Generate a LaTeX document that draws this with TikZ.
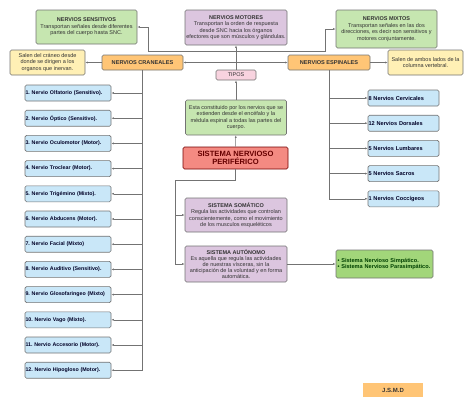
\documentclass[tikz,border=0pt]{standalone}
\usepackage{fontspec}
\setsansfont{Liberation Sans}
\usepackage{tikz}
\usetikzlibrary{arrows.meta,positioning,calc}
\usepackage{xcolor}
\frenchspacing
\definecolor{cgreen}{HTML}{C6E6B0}
\definecolor{cpurple}{HTML}{DCC6DF}
\definecolor{corange}{HTML}{FFC576}
\definecolor{cyellow}{HTML}{FFF0B5}
\definecolor{cblue}{HTML}{C9E7F8}
\definecolor{cpink}{HTML}{F8D3DF}
\definecolor{cred}{HTML}{F48A82}
\definecolor{cdgreen}{HTML}{A2D67A}
\definecolor{ctext}{HTML}{333333}
\tikzset{
  box/.style={draw=black!55, rounded corners=1.5pt, align=center, inner sep=1pt, line width=0.6pt, text=ctext, font=\sffamily\fontsize{5.5}{6.5}\selectfont},
  infobox/.style={box, fill=cgreen, minimum width=101pt},
  motorbox/.style={box, fill=cpurple, minimum width=102pt},
  kindbox/.style={box, fill=corange, minimum width=81pt, minimum height=15pt, font=\sffamily\bfseries\fontsize{5.6}{6.5}\selectfont},
  notebox/.style={box, fill=cyellow, minimum width=75pt, minimum height=25pt},
  nervbox/.style={box, fill=cblue, minimum width=86pt, minimum height=16pt, text width=85pt, inner xsep=0.5pt, align=left, text=black!75!blue!60!black, font=\sffamily\bfseries\fontsize{5.3}{6.3}\selectfont},
  spinbox/.style={nervbox, minimum width=71pt, text width=70pt, font=\sffamily\bfseries\fontsize{5.6}{6.5}\selectfont},
  arrow/.style={-{Latex[length=2.6pt,width=2pt]}, line width=0.5pt, draw=black!55},
  wire/.style={line width=0.5pt, draw=black!55}
}

\begin{document}
\begin{tikzpicture}[x=1pt, y=-1pt, node distance=8.6pt]
\useasboundingbox (0,0) rectangle (474,408);
% tipos y nodo central
\node[box, fill=cred, draw=red!45!black, minimum width=105pt, minimum height=22pt, text=red!40!black, font=\sffamily\bfseries\fontsize{7.6}{8.6}\selectfont] (snp) at (235.5,158) {SISTEMA NERVIOSO\\PERIFÉRICO};
\node[infobox, minimum height=35pt] (def) at (236,117.5) {Esta constituido por los nervios que se\\extienden desde el encéfalo y la\\médula espinal a todas las partes del\\cuerpo.};
\node[box, fill=cpink, minimum width=40pt, minimum height=10pt] (tipos) at (236,75) {TIPOS};
\node[motorbox, minimum height=35pt] (mot) at (236,27.5) {\textbf{NERVIOS MOTORES}\\Transportan la orden de respuesta\\desde SNC hacia los órganos\\efectores que son músculos y glándulas.};
\node[infobox, minimum height=34pt] (sens) at (86.5,27) {\textbf{NERVIOS SENSITIVOS}\\Transportan señales desde diferentes\\partes del cuerpo hasta SNC.};
\node[infobox, minimum height=38pt] (mix) at (386.5,29) {\textbf{NERVIOS MIXTOS}\\Transportan señales en las dos\\direcciones, es decir son sensitivos y\\motores conjuntamente.};
\node[kindbox] (cran) at (142.5,62.5) {NERVIOS CRANEALES};
\node[kindbox, minimum width=82pt] (esp) at (329,62.5) {NERVIOS ESPINALES};
\node[notebox] (salcr) at (47.5,62.5) {Salen del cráneo desde\\donde se dirigen a los\\organos que inervan.};
\node[notebox] (salesp) at (425.5,62.5) {Salen de ambos lados de la\\columna vertebral.};
% sistemas
\node[motorbox, minimum height=34pt] (som) at (236,215) {\textbf{SISTEMA SOMÁTICO}\\Regula las actividades que controlan\\conscientemente, como el movimiento\\de los musculos esqueléticos};
\node[motorbox, minimum height=36pt, font=\sffamily\fontsize{5.5}{6}\selectfont] (aut) at (236,264) {\textbf{SISTEMA AUTÓNOMO}\\Es aquella que regula las actividades\\de nuestras vísceras, sin la\\anticipación de la voluntad y en forma\\automática.};
\node[box, fill=cdgreen, minimum width=97pt, minimum height=28pt, text width=94pt, align=left, text=green!25!black, font=\sffamily\bfseries\fontsize{5.6}{6.6}\selectfont] (simp) at (384.5,264) {• Sistema Nervioso Simpático.\\• Sistema Nervioso Parasimpático.};
\node[box, draw=none, fill=corange, rounded corners=0pt, minimum width=60pt, minimum height=14pt, font=\sffamily\bfseries\fontsize{6}{7}\selectfont] (jsmd) at (393,390) {J.S.M.D};
% nervios craneales
\node[nervbox] (c1) at (68,93) {1. Nervio Olfatorio (Sensitivo).};
\node[nervbox, below=of c1] (c2) {2. Nervio Óptico (Sensitivo).};
\node[nervbox, below=of c2] (c3) {3. Nervio Oculomotor (Motor).};
\node[nervbox, below=of c3] (c4) {4. Nervio Troclear (Motor).};
\node[nervbox, below=of c4] (c5) {5. Nervio Trigémino (Mixto).};
\node[nervbox, below=of c5] (c6) {6. Nervio Abducens (Motor).};
\node[nervbox, below=of c6] (c7) {7. Nervio Facial (Mixto)};
\node[nervbox, below=of c7] (c8) {8. Nervio Auditivo (Sensitivo).};
\node[nervbox, below=of c8] (c9) {9. Nervio Glosofaringeo (Mixto)};
\node[nervbox, below=of c9] (c10) {10. Nervio Vago (Mixto).};
\node[nervbox, below=of c10] (c11) {11. Nervio Accesorio (Motor).};
\node[nervbox, below=of c11] (c12) {12. Nervio Hipogloso (Motor).};
% nervios espinales
\node[spinbox] (s1) at (403.5,98) {8 Nervios Cervicales};
\node[spinbox, below=of s1] (s2) {12 Nervios Dorsales};
\node[spinbox, below=of s2] (s3) {5 Nervios Lumbares};
\node[spinbox, below=of s3] (s4) {5 Nervios Sacros};
\node[spinbox, below=of s4] (s5) {1 Nervios Coccígeos};
% conexiones
\coordinate (top) at (236,51);
\coordinate (mid) at (236,62.5);
\draw[arrow] (snp) -- (def);
\draw[arrow] (def) -- (tipos);
\draw[arrow] (tipos) -- (mot);
\draw[arrow] (mid) -- (cran);
\draw[arrow] (mid) -- (esp);
\draw[arrow] (top) -| (148,27) -- (sens);
\draw[arrow] (top) -| (325,29) -- (mix);
\draw[arrow] (cran) -- (salcr);
\draw[arrow] (esp) -- (salesp);
\draw[wire] (cran.south) -- (cran.south |- c12);
\foreach \n in {c1,c2,c3,c4,c5,c6,c7,c8,c9,c10,c11,c12}
  \draw[arrow] (cran.south |- \n) -- (\n);
\draw[wire] (esp.south) -- (esp.south |- s5);
\foreach \n in {s1,s2,s3,s4,s5}
  \draw[arrow] (esp.south |- \n) -- (\n);
\draw[wire] (snp.south) -- (235.5,180) -- (175,180) -- (175,264);
\draw[arrow] (175,215) -- (som);
\draw[arrow] (175,264) -- (aut);
\draw[arrow] (aut) -- (simp);
\end{tikzpicture}
\end{document}
